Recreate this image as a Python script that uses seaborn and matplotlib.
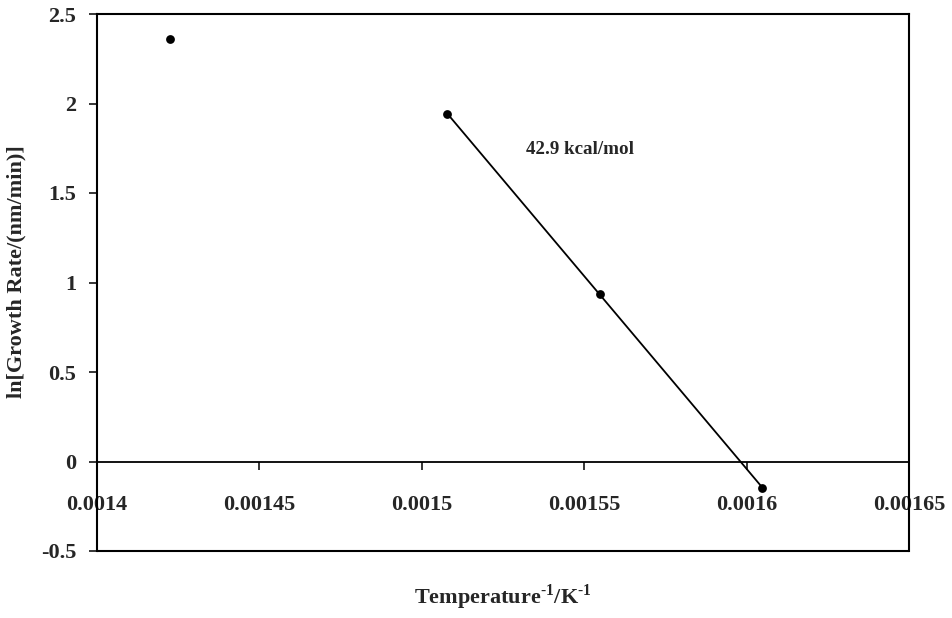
import numpy as np
import matplotlib
matplotlib.use("Agg")
import matplotlib.pyplot as plt
import seaborn as sns

# inverse temperature (1/K) and ln(growth rate)
inv_temp = [0.0014224, 0.0015079, 0.001555, 0.0016048]
ln_rate = [2.36, 1.94, 0.933, -0.147]
fit_idx = [1, 2, 3]  # points used for the Arrhenius fit
energy_label = "42.9 kcal/mol"

x_ticks = [0.0014, 0.00145, 0.0015, 0.00155, 0.0016, 0.00165]
x_tick_labels = ["0.0014", "0.00145", "0.0015", "0.00155", "0.0016", "0.00165"]
y_ticks = [-0.5, 0, 0.5, 1, 1.5, 2, 2.5]
y_tick_labels = ["-0.5", "0", "0.5", "1", "1.5", "2", "2.5"]

sns.set_style("white")
plt.rcParams['font.family'] = ['Liberation Serif', 'DejaVu Serif']
plt.rcParams['mathtext.fontset'] = 'custom'
plt.rcParams['mathtext.bf'] = 'Liberation Serif:bold'
plt.rcParams['mathtext.rm'] = 'Liberation Serif:bold'

fig = plt.figure(figsize=(9.52, 6.18), dpi=100)
ax = fig.add_axes([97 / 952, 1 - 551 / 618, (909 - 97) / 952, (551 - 14) / 618])

sns.scatterplot(x=inv_temp, y=ln_rate, ax=ax, color="black", s=40,
                marker="o", edgecolor="black", linewidth=0, zorder=3)

fx = np.array([inv_temp[i] for i in fit_idx])
fy = np.array([ln_rate[i] for i in fit_idx])
slope, icpt = np.polyfit(fx, fy, 1)
line_x = np.array([fx.min(), fx.max()])
sns.lineplot(x=line_x, y=slope * line_x + icpt, ax=ax, color="black", linewidth=1.3)

ax.text(0.0015488, 1.744, energy_label, ha="center", va="center",
        fontsize=13.7, fontweight="bold")

for s in ax.spines.values():
    s.set_color("black")
    s.set_linewidth(1.5)
ax.spines['bottom'].set_position(('data', 0))
ax.spines['bottom'].set_linewidth(1.3)
# bottom frame of the plot area
ax.plot([0, 1], [0, 0], transform=ax.transAxes, color="black",
        linewidth=1.5, clip_on=False)

ax.set_xlim(0.0014, 0.00165)
ax.set_ylim(-0.5, 2.5)
ax.set_xticks(x_ticks)
ax.set_xticklabels(x_tick_labels, fontsize=16, fontweight="bold")
ax.set_yticks(y_ticks)
ax.set_yticklabels(y_tick_labels, fontsize=16, fontweight="bold")

ax.tick_params(axis="y", direction="out", length=6, width=1.3, pad=9, left=True)
ax.tick_params(axis="x", direction="out", length=6, width=1.3, pad=18, bottom=True)

ax.set_xlabel(r"Temperature$^{\text{-1}}$/K$^{\text{-1}}$", fontsize=16, fontweight="bold")
ax.xaxis.set_label_coords(0.5, -0.058)
ax.set_ylabel("ln[Growth Rate/(nm/min)]", fontsize=16, fontweight="bold")
ax.yaxis.set_label_coords(-0.087, 0.52)

fig.savefig("out.png", dpi=100)
